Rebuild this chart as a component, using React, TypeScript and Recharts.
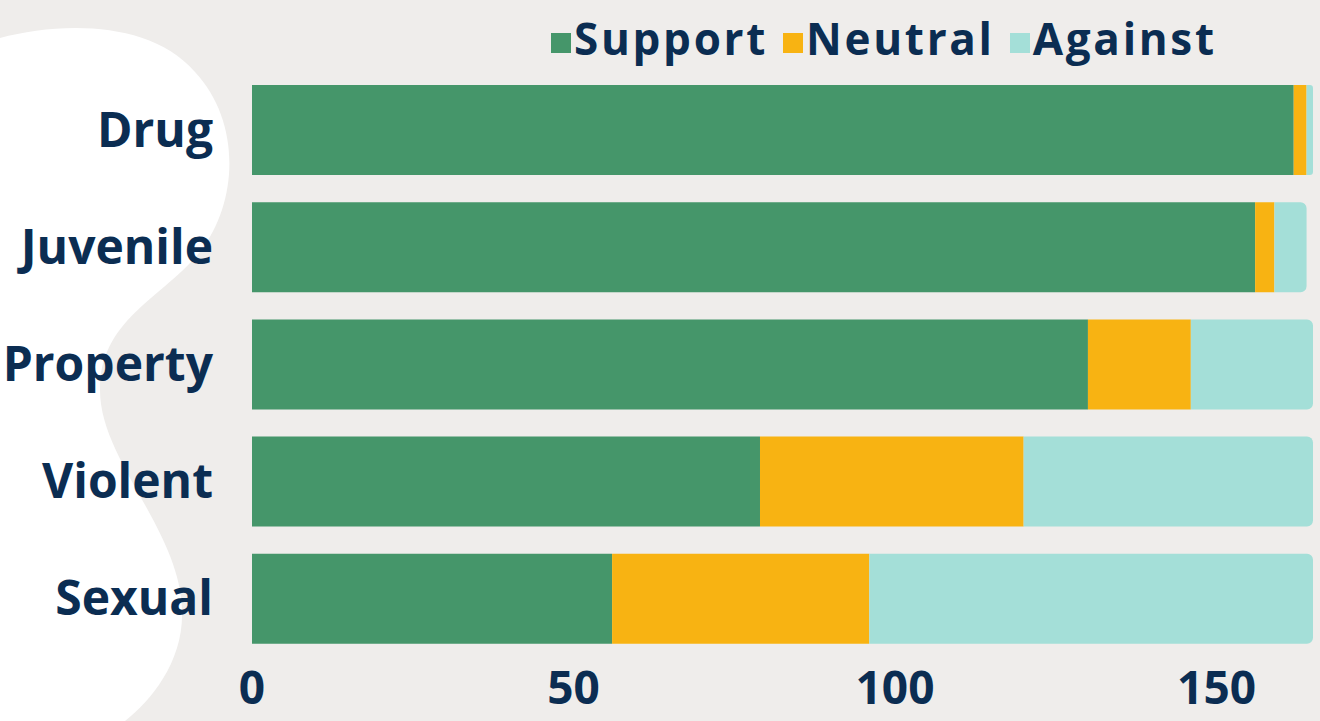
import React from 'react';
import { BarChart, Bar, XAxis, YAxis } from 'recharts';

const categories = ['Drug', 'Juvenile', 'Property', 'Violent', 'Sexual'];
const support = [162, 156, 130, 79, 56];
const neutral = [2, 3, 16, 41, 40];
const against = [1, 5, 19, 45, 69];
const xTicks = [0, 50, 100, 150];

const NAVY = '#0B2D52';
const FONT = '"Open Sans", "Lato", sans-serif';

const series = [
    { key: 'support', name: 'Support', color: '#45966A' },
    { key: 'neutral', name: 'Neutral', color: '#F8B312' },
    { key: 'against', name: 'Against', color: '#A4DFD8' },
];

const data = categories.map((name, i) => ({
    name,
    support: support[i],
    neutral: neutral[i],
    against: against[i],
}));

const LegendRow = () => (
    <div style={{ position: 'absolute', top: 12, left: 551, display: 'flex', alignItems: 'center', gap: 15 }}>
        {series.map((s) => (
            <div key={s.key} style={{ display: 'flex', alignItems: 'center' }}>
                <div style={{ width: 20, height: 20, background: s.color, marginRight: 3, marginTop: 10 }} />
                <span
                    style={{
                        fontFamily: FONT,
                        fontWeight: 700,
                        fontSize: 44,
                        letterSpacing: 2.7,
                        color: NAVY,
                        lineHeight: '52px',
                    }}
                >
                    {s.name}
                </span>
            </div>
        ))}
    </div>
);

export default function App() {
    return (
        <div style={{ position: 'absolute', top: 0, left: 0, width: 1320, height: 721, background: '#EFEDEB', overflow: 'hidden' }}>
            <svg width={1320} height={721} style={{ position: 'absolute', top: 0, left: 0 }}>
                <path
                    d="M0,38 C60,22 150,20 195,72 C240,120 240,200 200,252 C160,300 100,320 100,390 C100,460 180,530 182,610 C184,660 152,700 125,721 L0,721 Z"
                    fill="#FFFFFF"
                />
            </svg>
            <BarChart
                width={1320}
                height={721}
                data={data}
                layout="vertical"
                margin={{ top: 71, right: 7, left: 0, bottom: 0 }}
                barCategoryGap={27}
                style={{ position: 'absolute', top: 0, left: 0 }}
            >
                <XAxis
                    type="number"
                    domain={[0, 165]}
                    ticks={xTicks}
                    axisLine={false}
                    tickLine={false}
                    height={64}
                    tick={{ fill: NAVY, fontSize: 46, fontWeight: 700, fontFamily: FONT, dy: 6 }}
                    interval={0}
                />
                <YAxis
                    type="category"
                    dataKey="name"
                    width={252}
                    axisLine={false}
                    tickLine={false}
                    tickSize={0}
                    tickMargin={39}
                    tick={{ fill: NAVY, fontSize: 48, fontWeight: 700, fontFamily: FONT }}
                />
                {series.map((s, i) => (
                    <Bar
                        key={s.key}
                        dataKey={s.key}
                        name={s.name}
                        stackId="a"
                        fill={s.color}
                        barSize={90}
                        radius={i === 2 ? [0, 6, 6, 0] : 0}
                        isAnimationActive={false}
                    />
                ))}
            </BarChart>
            <LegendRow />
        </div>
    );
}
